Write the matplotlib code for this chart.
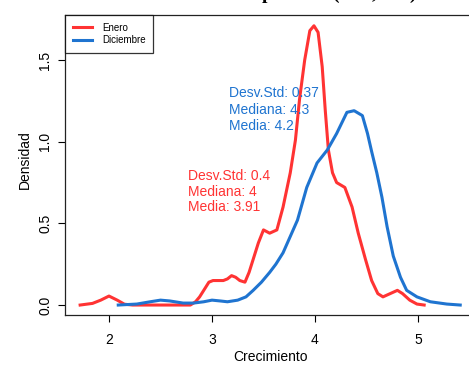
import matplotlib
matplotlib.use("Agg")
import matplotlib.pyplot as plt

plt.rcParams['font.family'] = ['Liberation Sans', 'DejaVu Sans']

# -----------------------------
# Data (density curves)
# -----------------------------
enero_x = [1.72, 1.84, 1.92, 2.0, 2.08, 2.15, 2.23, 2.4, 2.6, 2.79, 2.84, 2.88, 2.93, 2.97,
           3.01, 3.06, 3.11, 3.15, 3.19, 3.23, 3.27, 3.32, 3.36, 3.40, 3.45, 3.50, 3.56,
           3.63, 3.69, 3.76, 3.81, 3.85, 3.90, 3.95, 3.99, 4.03, 4.07, 4.10, 4.13, 4.17,
           4.21, 4.29, 4.36, 4.42, 4.49, 4.55, 4.61, 4.66, 4.73, 4.80, 4.85, 4.92, 4.99, 5.06]
enero_y = [0.0, 0.01, 0.03, 0.055, 0.03, 0.005, 0.0, 0.0, 0.0, 0.0, 0.02, 0.05, 0.10, 0.14,
           0.15, 0.15, 0.15, 0.16, 0.18, 0.17, 0.15, 0.14, 0.20, 0.28, 0.38, 0.46, 0.44,
           0.46, 0.60, 0.81, 1.01, 1.26, 1.50, 1.68, 1.71, 1.67, 1.46, 1.19, 0.95, 0.81,
           0.75, 0.72, 0.60, 0.44, 0.28, 0.15, 0.07, 0.05, 0.07, 0.09, 0.07, 0.03, 0.006, 0.0]

dic_x = [2.09, 2.27, 2.40, 2.50, 2.59, 2.72, 2.82, 2.92, 3.0, 3.08, 3.15, 3.25, 3.33, 3.40,
         3.48, 3.56, 3.62, 3.69, 3.76, 3.83, 3.92, 4.02, 4.12, 4.21, 4.31, 4.38, 4.46,
         4.51, 4.55, 4.60, 4.65, 4.70, 4.76, 4.83, 4.89, 4.99, 5.12, 5.28, 5.41]
dic_y = [0.0, 0.006, 0.02, 0.03, 0.025, 0.012, 0.012, 0.02, 0.03, 0.025, 0.02, 0.03, 0.05, 0.09,
         0.14, 0.20, 0.25, 0.32, 0.42, 0.52, 0.72, 0.87, 0.95, 1.05, 1.18, 1.19, 1.16,
         1.05, 0.94, 0.81, 0.66, 0.48, 0.30, 0.17, 0.09, 0.05, 0.02, 0.006, 0.0]

labels = ['Enero', 'Diciembre']
stats_enero = ['Desv.Std: 0.4', 'Mediana: 4', 'Media: 3.91']
stats_dic = ['Desv.Std: 0.37', 'Mediana: 4.3', 'Media: 4.2']

red = '#FF3333'
blue = '#1F74D0'

# -----------------------------
# Plot
# -----------------------------
W, H = 469, 367
fig = plt.figure(figsize=(W / 100, H / 100), dpi=100)
ax = fig.add_axes([65 / W, (H - 315) / H, 415 / W, 300 / H])

ax.plot(enero_x, enero_y, color=red, lw=2.2, label=labels[0])
ax.plot(dic_x, dic_y, color=blue, lw=2.2, label=labels[1])

ax.set_xlim(1.573, 5.602)
ax.set_ylim(-0.061, 1.776)
ax.set_xticks([2, 3, 4, 5])
ax.set_yticks([0.0, 0.5, 1.0, 1.5])
ax.set_yticklabels(['0.0', '0.5', '1.0', '1.5'], rotation=90, va='center')
ax.tick_params(direction='out', length=5, width=0.8, labelsize=10)
ax.tick_params(axis='x', pad=8)
ax.tick_params(axis='y', pad=4)
for s in ax.spines.values():
    s.set_linewidth(0.9)
    s.set_color('#222222')

fig.text(270 / W, (H - 357) / H, 'Crecimiento', fontsize=10, ha='center', va='center')
fig.text(25 / W, (H - 160) / H, 'Densidad', fontsize=10, ha='center', va='center', rotation=90)

# annotations
for i, t in enumerate(stats_dic):
    fig.text(229 / W, (H - (93 + 16.5 * i)) / H, t, color=blue, fontsize=10, va='center', ha='left')
for i, t in enumerate(stats_enero):
    fig.text(188 / W, (H - (176 + 15.5 * i)) / H, t, color=red, fontsize=10, va='center', ha='left')

leg = ax.legend(loc='upper left', bbox_to_anchor=(0, 1), borderaxespad=0, fontsize=7,
                frameon=True, fancybox=False, handlelength=2.0, handletextpad=1.0,
                borderpad=0.8, labelspacing=0.25)
leg.get_frame().set_edgecolor('black')
leg.get_frame().set_linewidth(0.9)

# title (cut off at the top edge in the reference)
fig.text(0.50, 1.0 + 1 / H, 'Densidad de crecimiento por mes (Ene, Dic)', ha='center',
         va='baseline', fontsize=14, fontweight='bold', family='Liberation Serif')

fig.savefig('out.png', dpi=100)
